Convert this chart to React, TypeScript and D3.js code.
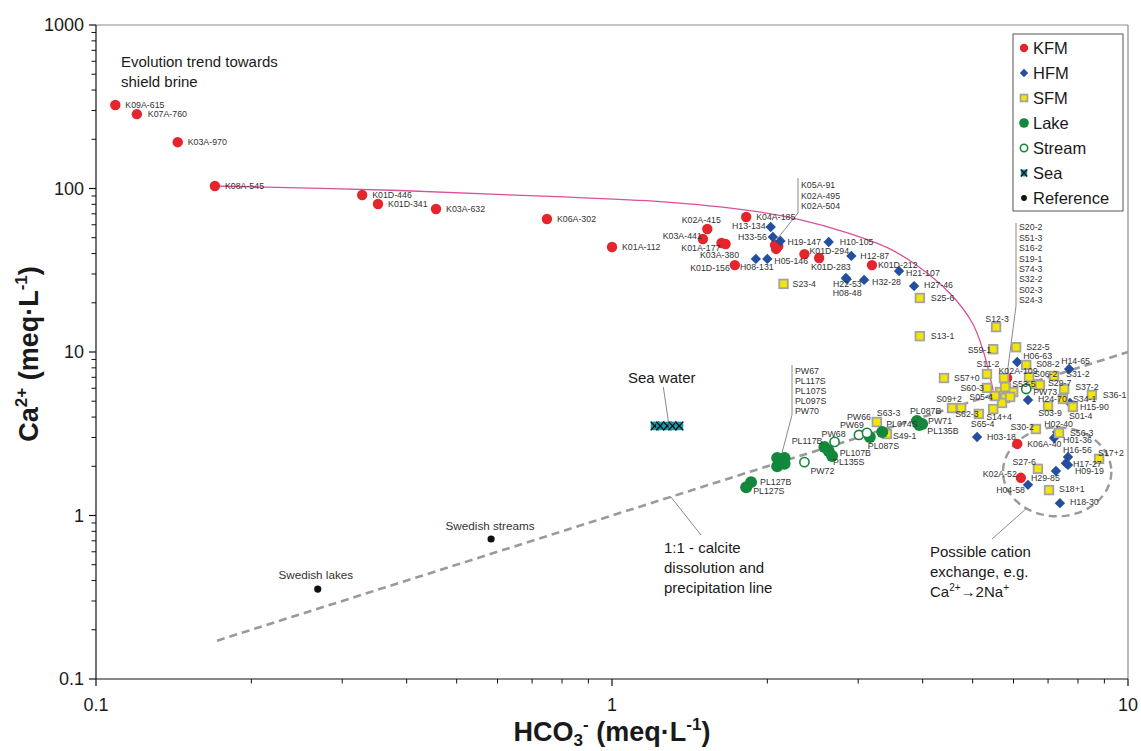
import React from 'react';
import * as d3 from 'd3';

type Sample = { id: string; hco3: number; ca: number };
type Anchor = 'start' | 'middle' | 'end';

// Forsmark groundwater, surface water and reference samples (meq/L)
const kfm: Sample[] = [
  { id: 'K09A-615', hco3: 0.109, ca: 324 },
  { id: 'K07A-760', hco3: 0.120, ca: 285 },
  { id: 'K03A-970', hco3: 0.144, ca: 192 },
  { id: 'K08A-545', hco3: 0.170, ca: 103.6 },
  { id: 'K01D-446', hco3: 0.328, ca: 91.2 },
  { id: 'K01D-341', hco3: 0.352, ca: 80.4 },
  { id: 'K03A-632', hco3: 0.456, ca: 74.9 },
  { id: 'K06A-302', hco3: 0.748, ca: 65.1 },
  { id: 'K01A-112', hco3: 1.00, ca: 43.9 },
  { id: 'K02A-415', hco3: 1.53, ca: 56.5 },
  { id: 'K03A-441', hco3: 1.50, ca: 49.1 },
  { id: 'K01A-177', hco3: 1.63, ca: 46.4 },
  { id: 'K03A-380', hco3: 1.66, ca: 45.8 },
  { id: 'K04A-185', hco3: 1.82, ca: 66.9 },
  { id: 'K05A-91', hco3: 2.07, ca: 45.1 },
  { id: 'K02A-495', hco3: 2.08, ca: 42.7 },
  { id: 'K02A-504', hco3: 2.10, ca: 44.5 },
  { id: 'K01D-156', hco3: 1.73, ca: 34.0 },
  { id: 'K01D-294', hco3: 2.36, ca: 39.7 },
  { id: 'K01D-283', hco3: 2.52, ca: 37.6 },
  { id: 'K01D-212', hco3: 3.19, ca: 34.0 },
  { id: 'K02A-109', hco3: 5.83, ca: 6.93 },
  { id: 'K06A-40', hco3: 6.10, ca: 2.74 },
  { id: 'K02A-52', hco3: 6.20, ca: 1.70 },
];

const hfm: Sample[] = [
  { id: 'H13-134', hco3: 2.03, ca: 58.2 },
  { id: 'H33-56', hco3: 2.05, ca: 50.5 },
  { id: 'H19-147', hco3: 2.12, ca: 47.7 },
  { id: 'H10-105', hco3: 2.63, ca: 47.1 },
  { id: 'H05-146', hco3: 2.00, ca: 37.1 },
  { id: 'H08-131', hco3: 1.90, ca: 37.1 },
  { id: 'H12-87', hco3: 2.91, ca: 38.7 },
  { id: 'H21-107', hco3: 3.60, ca: 31.3 },
  { id: 'H22-53', hco3: 2.84, ca: 28.4 },
  { id: 'H08-48', hco3: 2.85, ca: 27.9 },
  { id: 'H32-28', hco3: 3.08, ca: 27.6 },
  { id: 'H27-46', hco3: 3.85, ca: 25.3 },
  { id: 'H06-63', hco3: 6.10, ca: 8.69 },
  { id: 'H14-65', hco3: 7.69, ca: 7.87 },
  { id: 'H24-70', hco3: 6.40, ca: 5.09 },
  { id: 'H15-90', hco3: 7.72, ca: 4.88 },
  { id: 'H03-18', hco3: 5.10, ca: 3.02 },
  { id: 'H02-40', hco3: 7.29, ca: 3.24 },
  { id: 'H01-36', hco3: 7.19, ca: 2.98 },
  { id: 'H16-56', hco3: 7.65, ca: 2.28 },
  { id: 'H17-27', hco3: 7.58, ca: 2.09 },
  { id: 'H09-19', hco3: 7.65, ca: 2.04 },
  { id: 'H29-85', hco3: 7.25, ca: 1.87 },
  { id: 'H04-58', hco3: 6.40, ca: 1.54 },
  { id: 'H18-30', hco3: 7.38, ca: 1.19 },
];

const sfm: Sample[] = [
  { id: 'S23-4', hco3: 2.15, ca: 26.1 },
  { id: 'S25-6', hco3: 3.95, ca: 21.4 },
  { id: 'S13-1', hco3: 3.95, ca: 12.5 },
  { id: 'S12-3', hco3: 5.55, ca: 14.2 },
  { id: 'S22-5', hco3: 6.07, ca: 10.7 },
  { id: 'S59-1', hco3: 5.48, ca: 10.4 },
  { id: 'S08-2', hco3: 6.35, ca: 8.33 },
  { id: 'S11-2', hco3: 5.33, ca: 7.33 },
  { id: 'S57+0', hco3: 4.40, ca: 6.93 },
  { id: 'S20-2', hco3: 5.75, ca: 6.93 },
  { id: 'S51-3', hco3: 5.65, ca: 5.69 },
  { id: 'S16-2', hco3: 5.80, ca: 6.03 },
  { id: 'S19-1', hco3: 5.78, ca: 5.23 },
  { id: 'S74-3', hco3: 5.99, ca: 5.69 },
  { id: 'S32-2', hco3: 6.52, ca: 6.37 },
  { id: 'S02-3', hco3: 5.70, ca: 4.88 },
  { id: 'S24-3', hco3: 5.91, ca: 5.31 },
  { id: 'S06-2', hco3: 6.43, ca: 7.03 },
  { id: 'S31-2', hco3: 7.19, ca: 7.13 },
  { id: 'S29-7', hco3: 6.75, ca: 6.28 },
  { id: 'S53-5', hco3: 5.78, ca: 6.11 },
  { id: 'S60-3', hco3: 5.33, ca: 6.03 },
  { id: 'S05-4', hco3: 5.52, ca: 5.38 },
  { id: 'S37-2', hco3: 7.52, ca: 5.94 },
  { id: 'S36-1', hco3: 8.51, ca: 5.46 },
  { id: 'S34-1', hco3: 7.48, ca: 5.16 },
  { id: 'S01-4', hco3: 7.82, ca: 4.61 },
  { id: 'S03-9', hco3: 7.00, ca: 4.67 },
  { id: 'S09+2', hco3: 4.56, ca: 4.54 },
  { id: 'S62-3', hco3: 4.75, ca: 4.54 },
  { id: 'S65-4', hco3: 5.14, ca: 4.18 },
  { id: 'S14+4', hco3: 5.48, ca: 4.48 },
  { id: 'S30-2', hco3: 6.63, ca: 3.38 },
  { id: 'S56-3', hco3: 7.35, ca: 3.20 },
  { id: 'S17+2', hco3: 8.79, ca: 2.22 },
  { id: 'S27-6', hco3: 6.69, ca: 1.93 },
  { id: 'S18+1', hco3: 7.03, ca: 1.43 },
  { id: 'S63-3', hco3: 3.26, ca: 3.73 },
  { id: 'S49-1', hco3: 3.41, ca: 3.15 },
];

const lake: Sample[] = [
  { id: 'PW67', hco3: 2.09, ca: 2.25 },
  { id: 'PL117S', hco3: 2.16, ca: 2.25 },
  { id: 'PL107S', hco3: 2.14, ca: 2.12 },
  { id: 'PL097S', hco3: 2.09, ca: 2.00 },
  { id: 'PW70', hco3: 2.16, ca: 2.07 },
  { id: 'PL117B', hco3: 2.58, ca: 2.62 },
  { id: 'PL107B', hco3: 2.63, ca: 2.48 },
  { id: 'PL135S', hco3: 2.67, ca: 2.31 },
  { id: 'PL127B', hco3: 1.86, ca: 1.60 },
  { id: 'PL127S', hco3: 1.82, ca: 1.49 },
  { id: 'PL087S', hco3: 3.16, ca: 3.02 },
  { id: 'PL074S', hco3: 3.34, ca: 3.24 },
  { id: 'PL087B', hco3: 3.90, ca: 3.78 },
  { id: 'PW71', hco3: 3.99, ca: 3.63 },
  { id: 'PL135B', hco3: 3.94, ca: 3.58 },
];

const stream: Sample[] = [
  { id: 'PW68', hco3: 2.70, ca: 2.82 },
  { id: 'PW72', hco3: 2.36, ca: 2.12 },
  { id: 'PW69', hco3: 3.01, ca: 3.11 },
  { id: 'PW66', hco3: 3.12, ca: 3.20 },
  { id: 'PW73', hco3: 6.35, ca: 5.94 },
];

const sea: Sample[] = [
  { id: 'sea-1', hco3: 1.21, ca: 3.53 },
  { id: 'sea-2', hco3: 1.24, ca: 3.53 },
  { id: 'sea-3', hco3: 1.28, ca: 3.53 },
  { id: 'sea-4', hco3: 1.31, ca: 3.53 },
  { id: 'sea-5', hco3: 1.35, ca: 3.53 },
];

const reference: Sample[] = [
  { id: 'Swedish streams', hco3: 0.583, ca: 0.718 },
  { id: 'Swedish lakes', hco3: 0.269, ca: 0.355 },
];

// Hand-drawn evolution trend towards shield brine (hco3, ca)
const brineTrend: [number, number][] = [
  [0.17, 103.6], [0.388, 97.2], [0.758, 89.4], [1.24, 83.2], [1.85, 73.3],
  [2.31, 64.6], [2.85, 53.8], [3.41, 43.6], [3.9, 33.8], [4.52, 22.8],
  [4.99, 15.1], [5.24, 10.2], [5.48, 5.81],
];

// 1:1 calcite dissolution / precipitation line
const calciteLine: [number, number][] = [[0.1716, 0.1716], [10, 10]];

// Cation exchange zone: centre (hco3, ca) and half-widths in decades
const exchangeZone = { hco3: 7.29, ca: 1.85, halfDecX: 0.105, halfDecY: 0.272 };

const xTickValues = [0.1, 1, 10];
const xTickLabels = ['0.1', '1', '10'];
const yTickValues = [0.1, 1, 10, 100, 1000];
const yTickLabels = ['0.1', '1', '10', '100', '1000'];

const legendItems = ['KFM', 'HFM', 'SFM', 'Lake', 'Stream', 'Sea', 'Reference'];

// Sample names shown together next to a leader line
const groupK05 = ['K05A-91', 'K02A-495', 'K02A-504'];
const groupPW67 = ['PW67', 'PL117S', 'PL107S', 'PL097S', 'PW70'];
const groupS20 = ['S20-2', 'S51-3', 'S16-2', 'S19-1', 'S74-3', 'S32-2', 'S02-3', 'S24-3'];

// Label placement: [dx, dy of text centre, anchor]
const labelPlacement: Record<string, [number, number, Anchor]> = {
  'K09A-615': [10, 0, 'start'], 'K07A-760': [11, 0, 'start'], 'K03A-970': [10, 0, 'start'],
  'K08A-545': [10, 0, 'start'], 'K01D-446': [10, 0, 'start'], 'K01D-341': [10, 0, 'start'],
  'K03A-632': [10, 0, 'start'], 'K06A-302': [10, 0, 'start'], 'K01A-112': [10, 0, 'start'],
  'K02A-415': [-6, -9, 'middle'], 'K03A-441': [-1, -3, 'end'], 'K01A-177': [-1, 5, 'end'],
  'K03A-380': [-6, 11, 'middle'], 'K04A-185': [10, 0, 'start'], 'K01D-156': [-5, 3, 'end'],
  'K01D-294': [5, -3, 'start'], 'K01D-283': [-8, 9, 'start'], 'K01D-212': [6, 0, 'start'],
  'K02A-109': [11, -7, 'middle'], 'K06A-40': [10, 0, 'start'], 'K02A-52': [-4, -4, 'end'],
  'H13-134': [-5, -1, 'end'], 'H33-56': [-6, 0, 'end'], 'H19-147': [7, 1, 'start'],
  'H10-105': [11, 0, 'start'], 'H05-146': [7, 2, 'start'], 'H08-131': [1, 8, 'middle'],
  'H12-87': [9, 0, 'start'], 'H21-107': [7, 2, 'start'], 'H22-53': [-13, 6, 'start'],
  'H08-48': [-14, 14, 'start'], 'H32-28': [8, 2, 'start'], 'H27-46': [10, -1, 'start'],
  'H06-63': [6, -6, 'start'], 'H14-65': [-8, -8, 'start'], 'H24-70': [10, -1, 'start'],
  'H15-90': [10, 4, 'start'], 'H03-18': [10, 0, 'start'], 'H02-40': [-13, -8, 'start'],
  'H01-36': [9, 2, 'start'], 'H16-56': [-5, -7, 'start'], 'H17-27': [7, 1, 'start'],
  'H09-19': [7, 6, 'start'], 'H29-85': [-25, 7, 'start'], 'H04-58': [-3, 5, 'end'],
  'H18-30': [10, -1, 'start'],
  'S23-4': [9, 0, 'start'], 'S25-6': [11, 0, 'start'], 'S13-1': [11, 0, 'start'],
  'S12-3': [1, -8, 'middle'], 'S22-5': [10, 0, 'start'], 'S59-1': [-2, 1, 'end'],
  'S08-2': [10, -1, 'start'], 'S11-2': [1, -10, 'middle'], 'S57+0': [10, 0, 'start'],
  'S06-2': [5, -3, 'start'], 'S31-2': [12, -2, 'start'], 'S29-7': [8, -2, 'start'],
  'S53-5': [7, -3, 'start'], 'S60-3': [-3, 0, 'end'], 'S05-4': [-2, 1, 'end'],
  'S37-2': [11, -2, 'start'], 'S36-1': [11, 0, 'start'], 'S34-1': [10, 0, 'start'],
  'S01-4': [-4, 9, 'start'], 'S03-9': [2, 7, 'middle'], 'S09+2': [-3, -9, 'middle'],
  'S62-3': [-6, 6, 'start'], 'S65-4': [-8, 10, 'start'], 'S14+4': [-7, 8, 'start'],
  'S30-2': [-2, -2, 'end'], 'S56-3': [11, 0, 'start'], 'S17+2': [-1, -6, 'start'],
  'S27-6': [-2, -7, 'end'], 'S18+1': [10, -1, 'start'], 'S63-3': [0, -9, 'start'],
  'S49-1': [6, 2, 'start'],
  'PL117B': [-2, -6, 'end'], 'PL107B': [11, 2, 'start'], 'PL135S': [1, 6, 'start'],
  'PL127B': [9, 0, 'start'], 'PL127S': [7, 4, 'start'], 'PL087S': [-2, 9, 'start'],
  'PL074S': [4, -8, 'start'], 'PL087B': [-7, -10, 'start'], 'PW71': [6, -3, 'start'],
  'PL135B': [8, 6, 'start'],
  'PW68': [-1, -8, 'middle'], 'PW72': [6, 9, 'start'], 'PW69': [-7, -10, 'middle'],
  'PW66': [-8, -16, 'middle'], 'PW73': [7, 3, 'start'],
  'Swedish streams': [-1, -13, 'middle'], 'Swedish lakes': [-2, -14, 'middle'],
};

const W = 1141;
const H = 751;
const plot = { left: 96, right: 1128, top: 25, bottom: 679 };

const x = d3.scaleLog().domain([0.1, 10]).range([plot.left, plot.right]);
const y = d3.scaleLog().domain([0.1, 1000]).range([plot.bottom, plot.top]);

const C = {
  kfm: '#e5252b',
  hfm: '#234f9e',
  sfmFill: '#f3e600',
  sfmStroke: '#a3a3a3',
  lake: '#13873b',
  sea: '#1a98a8',
  ref: '#111111',
  trend: '#d9509b',
  dash: '#9a9a9a',
  label: '#333333',
  leader: '#8a8a8a',
};

const FONT = "'Liberation Sans', Arial, Helvetica, sans-serif";

const minorTicks = (decades: number[]) =>
  decades.flatMap((d) => d3.range(2, 10).map((k) => d * k));

const diamondPath = (s: number) => `M0,${-s}L${s},0L0,${s}L${-s},0Z`;

function Marker({ kind, s = 1 }: { kind: string; s?: number }) {
  switch (kind) {
    case 'KFM':
      return <circle r={5.2 * s} fill={C.kfm} />;
    case 'HFM':
      return <path d={diamondPath(5.2 * s)} fill={C.hfm} />;
    case 'SFM':
      return (
        <rect x={-4.3 * s} y={-4.3 * s} width={8.6 * s} height={8.6 * s}
          fill={C.sfmFill} stroke={C.sfmStroke} strokeWidth={1.8} />
      );
    case 'Lake':
      return <circle r={6 * s} fill={C.lake} />;
    case 'Stream':
      return <circle r={4.6 * s} fill="#fff" stroke={C.lake} strokeWidth={1.6} />;
    case 'Sea':
      return (
        <g>
          <rect x={-4 * s} y={-4.3 * s} width={8 * s} height={8.6 * s} fill={C.sea} />
          <path d={`M${-4 * s},${-4.3 * s}L${4 * s},${4.3 * s}M${4 * s},${-4.3 * s}L${-4 * s},${4.3 * s}`}
            stroke="#111" strokeWidth={1.3} />
        </g>
      );
    default:
      return <circle r={3.6 * s} fill={C.ref} />;
  }
}

const grouped = new Set([...groupK05, ...groupPW67, ...groupS20]);

const series: { kind: string; data: Sample[] }[] = [
  { kind: 'KFM', data: kfm },
  { kind: 'HFM', data: hfm },
  { kind: 'SFM', data: sfm },
  { kind: 'Lake', data: lake },
  { kind: 'Stream', data: stream },
  { kind: 'Sea', data: sea },
  { kind: 'Reference', data: reference },
];

const allSamples = series.flatMap((s) => s.data);
const findSample = (id: string) => allSamples.find((d) => d.id === id)!;
const px = (d: Sample) => [x(d.hco3), y(d.ca)] as [number, number];

function Leader({ names, textX, textY0, step, lineX, lineTop, lineBend, target, tdx, tdy }: {
  names: string[]; textX: number; textY0: number; step: number; lineX: number;
  lineTop: number; lineBend: number; target: string; tdx: number; tdy: number;
}) {
  const [tx, ty] = px(findSample(target));
  return (
    <g>
      <path d={`M${lineX},${lineTop}L${lineX},${lineBend}L${tx + tdx},${ty + tdy}`}
        fill="none" stroke={C.leader} strokeWidth={1} />
      {names.map((n, i) => (
        <text key={n} x={textX} y={textY0 + i * step + 3.2} fontSize={8.8}
          fill={C.label} fontFamily={FONT}>{n}</text>
      ))}
    </g>
  );
}

export default function App() {
  const trendLine = d3.line<[number, number]>()
    .x((d) => x(d[0])).y((d) => y(d[1]))
    .curve(d3.curveCatmullRom.alpha(0.5));

  const zoneCx = x(exchangeZone.hco3);
  const zoneCy = y(exchangeZone.ca);
  const zoneRx = x(exchangeZone.hco3 * 10 ** exchangeZone.halfDecX) - zoneCx;
  const zoneRy = zoneCy - y(exchangeZone.ca * 10 ** exchangeZone.halfDecY);

  const seaMid = px(sea[2]);
  const calciteStart = [x(1.3), y(1.3)];

  return (
    <svg width={W} height={H} style={{ position: 'absolute', left: 0, top: 0, background: '#fff' }}
      fontFamily={FONT}>
      <rect width={W} height={H} fill="#fff" />

      {/* plot frame */}
      <line x1={plot.left} x2={plot.right} y1={plot.top} y2={plot.top} stroke="#8c8c8c" strokeWidth={1.2} />
      <line x1={plot.right} x2={plot.right} y1={plot.top} y2={plot.bottom} stroke="#8c8c8c" strokeWidth={1.2} />
      <line x1={plot.left} x2={plot.left} y1={plot.top} y2={plot.bottom} stroke="#111" strokeWidth={1.2} />
      <line x1={plot.left} x2={plot.right} y1={plot.bottom} y2={plot.bottom} stroke="#111" strokeWidth={1.2} />

      {/* y axis ticks */}
      {yTickValues.map((v, i) => (
        <g key={`yt${v}`}>
          <line x1={plot.left - 7} x2={plot.left} y1={y(v)} y2={y(v)} stroke="#111" strokeWidth={1.2} />
          <text x={plot.left - 12} y={y(v) + 6.3} textAnchor="end" fontSize={18} fill="#1a1a1a">{yTickLabels[i]}</text>
        </g>
      ))}
      {minorTicks([0.1, 1, 10, 100]).map((v) => (
        <line key={`ym${v}`} x1={plot.left - 4.5} x2={plot.left} y1={y(v)} y2={y(v)} stroke="#111" strokeWidth={1} />
      ))}

      {/* x axis ticks */}
      {xTickValues.map((v, i) => (
        <g key={`xt${v}`}>
          <line x1={x(v)} x2={x(v)} y1={plot.bottom} y2={plot.bottom + 7} stroke="#111" strokeWidth={1.2} />
          <text x={x(v)} y={plot.bottom + 32} textAnchor="middle" fontSize={18} fill="#1a1a1a">{xTickLabels[i]}</text>
        </g>
      ))}
      {minorTicks([0.1, 1]).map((v) => (
        <line key={`xm${v}`} x1={x(v)} x2={x(v)} y1={plot.bottom} y2={plot.bottom + 4.5} stroke="#111" strokeWidth={1} />
      ))}

      {/* axis titles */}
      <text transform={`translate(38,${(plot.top + plot.bottom) / 2 + 2}) rotate(-90)`} textAnchor="middle"
        fontSize={27} fontWeight="bold" fill="#1a1a1a">
        Ca<tspan fontSize={17} dy={-11}>2+</tspan><tspan dy={11}> (meq·L</tspan>
        <tspan fontSize={17} dy={-11}>-1</tspan><tspan dy={11}>)</tspan>
      </text>
      <text x={(plot.left + plot.right) / 2} y={741} textAnchor="middle" fontSize={27} fontWeight="bold" fill="#1a1a1a">
        HCO<tspan fontSize={17} dy={5}>3</tspan><tspan fontSize={17} dy={-16}>-</tspan>
        <tspan dy={11}> (meq·L</tspan><tspan fontSize={17} dy={-11}>-1</tspan><tspan dy={11}>)</tspan>
      </text>

      {/* trend and reference lines */}
      <path d={trendLine(brineTrend) ?? ''} fill="none" stroke={C.trend} strokeWidth={1.3} />
      <line x1={x(calciteLine[0][0])} y1={y(calciteLine[0][1])} x2={x(calciteLine[1][0])} y2={y(calciteLine[1][1])}
        stroke={C.dash} strokeWidth={2.6} strokeDasharray="8 5" />
      <ellipse cx={zoneCx} cy={zoneCy} rx={zoneRx} ry={zoneRy} fill="none"
        stroke={C.dash} strokeWidth={2.4} strokeDasharray="8 5" />

      {/* leader lines for annotations */}
      <line x1={seaMid[0] - 4} y1={387} x2={seaMid[0] + 1} y2={seaMid[1] - 5} stroke={C.leader} strokeWidth={1} />
      <line x1={calciteStart[0]} y1={calciteStart[1]} x2={701} y2={535} stroke={C.leader} strokeWidth={1} />
      <line x1={zoneCx - 30} y1={zoneCy + 36} x2={992} y2={539} stroke={C.leader} strokeWidth={1} />

      <Leader names={groupK05} textX={801} textY0={185} step={10.5} lineX={798} lineTop={178} lineBend={213}
        target="K05A-91" tdx={2} tdy={-6} />
      <Leader names={groupPW67} textX={795} textY0={371} step={10} lineX={792} lineTop={365} lineBend={415}
        target="PW67" tdx={4} tdy={-2} />
      <Leader names={groupS20} textX={1019} textY0={227} step={10.45} lineX={1016} lineTop={223} lineBend={306}
        target="S20-2" tdx={2} tdy={5} />

      {/* sample markers */}
      {series.map((s) => (
        <g key={s.kind}>
          {s.data.map((d) => (
            <g key={d.id} transform={`translate(${x(d.hco3)},${y(d.ca)})`}>
              <Marker kind={s.kind} />
            </g>
          ))}
        </g>
      ))}

      {/* sample labels */}
      {allSamples.filter((d) => !grouped.has(d.id) && labelPlacement[d.id]).map((d) => {
        const [dx, dy, anchor] = labelPlacement[d.id];
        const isRef = d.id.startsWith('Swedish');
        return (
          <text key={`l${d.id}`} x={x(d.hco3) + dx} y={y(d.ca) + dy + (isRef ? 4.2 : 3.2)}
            textAnchor={anchor} fontSize={isRef ? 11.7 : 8.8} fill={C.label}>{d.id}</text>
        );
      })}

      {/* annotations */}
      <g fontSize={15} fill="#1a1a1a">
        <text x={121} y={67}>Evolution trend towards</text>
        <text x={121} y={87}>shield brine</text>
        <text x={628} y={383}>Sea water</text>
        <text x={664} y={553}>1:1 - calcite</text>
        <text x={664} y={573}>dissolution and</text>
        <text x={664} y={593}>precipitation line</text>
        <text x={930} y={557}>Possible cation</text>
        <text x={930} y={577}>exchange, e.g.</text>
        <text x={930} y={597}>
          Ca<tspan fontSize={10} dy={-6}>2+</tspan><tspan dy={6}>→2Na</tspan><tspan fontSize={10} dy={-6}>+</tspan>
        </text>
      </g>

      {/* legend */}
      <g>
        <rect x={1013} y={34} width={110} height={177} fill="#fff" stroke="#555" strokeWidth={1} />
        {legendItems.map((k, i) => (
          <g key={k} transform={`translate(1024,${48 + i * 25})`}>
            <Marker kind={k} s={0.8} />
            <text x={9} y={6} fontSize={16.5} fill="#1a1a1a">{k}</text>
          </g>
        ))}
      </g>
    </svg>
  );
}
